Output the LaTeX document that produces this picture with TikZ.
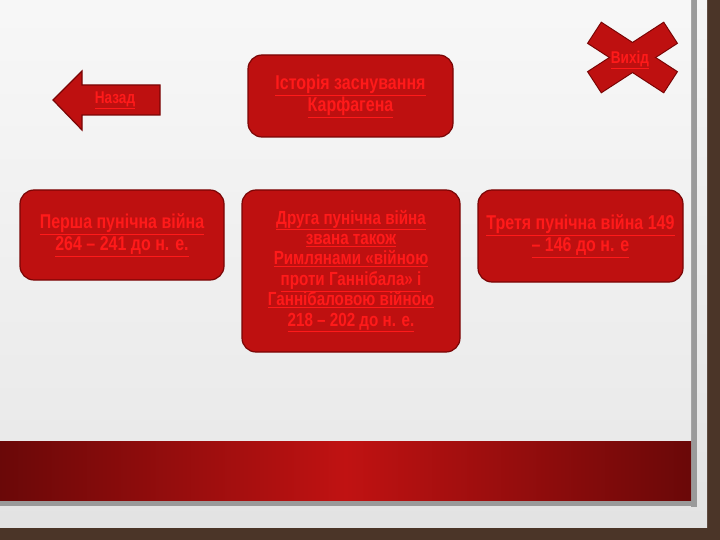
\documentclass[tikz,border=0pt]{standalone}
\usepackage{fontspec}
\setmainfont{Liberation Sans}
\newfontfamily\cond[FakeStretch=0.8]{Liberation Sans}
\definecolor{boxred}{HTML}{BE1010}
\definecolor{boxborder}{HTML}{7A0505}
\definecolor{txtred}{HTML}{FF1A1A}
\definecolor{brick}{HTML}{4B3528}
\definecolor{bandred}{HTML}{C01212}
\definecolor{banddark}{HTML}{6A0808}
\definecolor{framegray}{HTML}{9A9A9A}
\newcommand\ulin[1]{\underline{#1}}
\tikzset{
  box/.style={draw=boxborder, line width=1.2pt, fill=boxred, rounded corners=14pt,
    text=txtred, font=\cond\bfseries\fontsize{20}{22}\selectfont, align=center, inner sep=0pt},
  smalltxt/.style={text=txtred, font=\cond\bfseries\fontsize{17}{19}\selectfont, inner sep=0pt},
  shapefill/.style={fill=boxred, draw=boxborder, line width=1.2pt}
}
\begin{document}
\begin{tikzpicture}[x=1pt,y=-1pt]
\useasboundingbox (0,0) rectangle (720,540);
% background
\fill[brick] (0,0) rectangle (720,540);
\shade[top color=gray!8, bottom color=gray!22] (0,0) rectangle (707,527);
\fill[framegray] (691,0) rectangle (697,507);
\fill[framegray] (0,500) rectangle (697,506);
\shade[top color=gray!6, bottom color=gray!18] (0,0) rectangle (691,500);
% red band
\shade[left color=banddark, right color=banddark, middle color=bandred] (0,441) rectangle (691,500);
% boxes
\node[box, minimum width=205pt, minimum height=82pt] (hist) at (350.5,96)
  {\ulin{Історія заснування}\\\ulin{Карфагена}};
\node[box, minimum width=204pt, minimum height=90pt] (first) at (122,235)
  {\ulin{Перша пунічна війна}\\\ulin{264 – 241 до н. е.}};
\node[box, minimum width=218pt, minimum height=162pt,
  font=\cond\bfseries\fontsize{19}{20.4}\selectfont] (second) at (351,271)
  {\ulin{Друга пунічна війна}\\\ulin{звана також}\\\ulin{Римлянами «війною}\\\ulin{проти Ганнібала» і}\\\ulin{Ганнібаловою війною}\\\ulin{218 – 202 до н. е.}};
\node[box, minimum width=205pt, minimum height=92pt] (third) at (580.5,236)
  {\ulin{Третя пунічна війна 149}\\\ulin{– 146 до н. е}};
% back arrow
\filldraw[shapefill] (53,100) -- (82,71) -- (82,85) -- (160,85) -- (160,115) -- (82,115) -- (82,130) -- cycle;
\node[smalltxt] (back) at (115,100) {\ulin{Назад}};
% exit cross
\coordinate (xc) at (632.5,57.5);
\filldraw[shapefill, rotate around={-33:(xc)}] (632.5-45.3,57.5-12.5) rectangle (632.5+45.3,57.5+12.5);
\filldraw[shapefill, rotate around={33:(xc)}] (632.5-45.3,57.5-12.5) rectangle (632.5+45.3,57.5+12.5);
\fill[boxred, rotate around={-33:(xc)}] (632.5-44.7,57.5-11.9) rectangle (632.5+44.7,57.5+11.9);
\fill[boxred, rotate around={33:(xc)}] (632.5-44.7,57.5-11.9) rectangle (632.5+44.7,57.5+11.9);
\node[smalltxt] (exit) at (630,60) {\ulin{Вихід}};
\end{tikzpicture}
\end{document}
